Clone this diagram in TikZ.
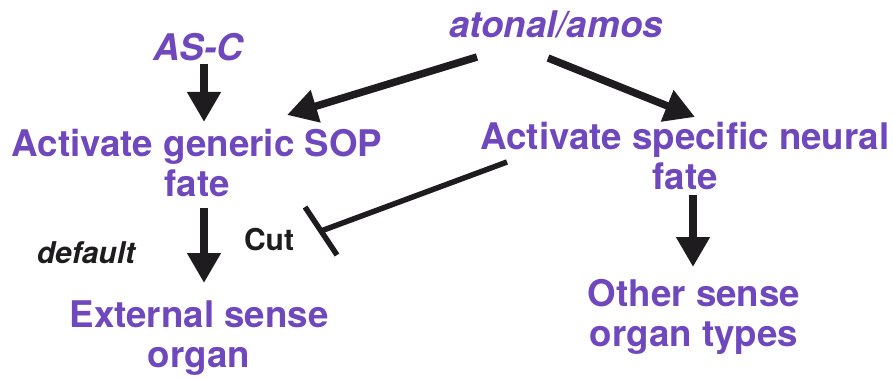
\documentclass[tikz,border=0pt]{standalone}
\usepackage{fontspec}
\setmainfont{TeX Gyre Heros}
\usetikzlibrary{arrows.meta}
\definecolor{fatepurple}{RGB}{112,72,190}
\definecolor{inkblack}{RGB}{30,28,30}
\begin{document}
\begin{tikzpicture}[x=1pt,y=1pt,
  lbl/.style={inner sep=0pt, font=\fontsize{36.7}{40}\selectfont\bfseries,
              text=fatepurple, align=center, anchor=base},
  note/.style={inner sep=0pt, font=\fontsize{30}{34}\selectfont\bfseries,
               text=inkblack, anchor=base},
  arr/.style={draw=inkblack, line width=7.5pt,
              -{Triangle[length=30pt,width=32pt]}},
  block/.style={draw=inkblack, line width=5.5pt}]
  % page frame
  \fill[white] (0,0) rectangle (893,378);
  \useasboundingbox (0,0) rectangle (893,378);

  % gene and fate labels (base anchor = baseline of the last line)
  \node[lbl] (asc)  at (198,317) {\itshape AS-C};
  \node[lbl] (aton) at (556,340) {\itshape atonal/amos};
  \node[lbl] (gen)  at (197,182) {Activate generic SOP\\fate};
  \node[lbl] (spec) at (685,189) {Activate specific neural\\fate};
  \node[lbl] (ext)  at (199,11)  {External sense\\organ};
  \node[lbl] (oth)  at (694,32)  {Other sense\\organ types};
  \node[note] (dflt) at (86,115) {\itshape default};
  \node[note] (cut)  at (269,128) {Cut};

  % activating arrows
  \draw[arr] ([shift={(6,-3)}]asc.base) -- ([shift={(7,74)}]gen.base);
  \draw[arr] ([shift={(-79,-19)}]aton.base) -- ([shift={(90,81)}]gen.base);
  \draw[arr] ([shift={(-8,-20)}]aton.base) -- ([shift={(10,72)}]spec.base);
  \draw[arr] ([shift={(7,-12)}]gen.base) -- ([shift={(5,84)}]ext.base);
  \draw[arr] ([shift={(8,-6)}]spec.base) -- ([shift={(-1,79)}]oth.base);

  % inhibition
  \coordinate (cutend) at ([shift={(52,19)}]cut.base);
  \draw[block] ([shift={(-178,27)}]spec.base) -- (cutend);
  \draw[block] ([shift={(-16,24)}]cutend) -- ([shift={(16,-24)}]cutend);
\end{tikzpicture}
\end{document}
